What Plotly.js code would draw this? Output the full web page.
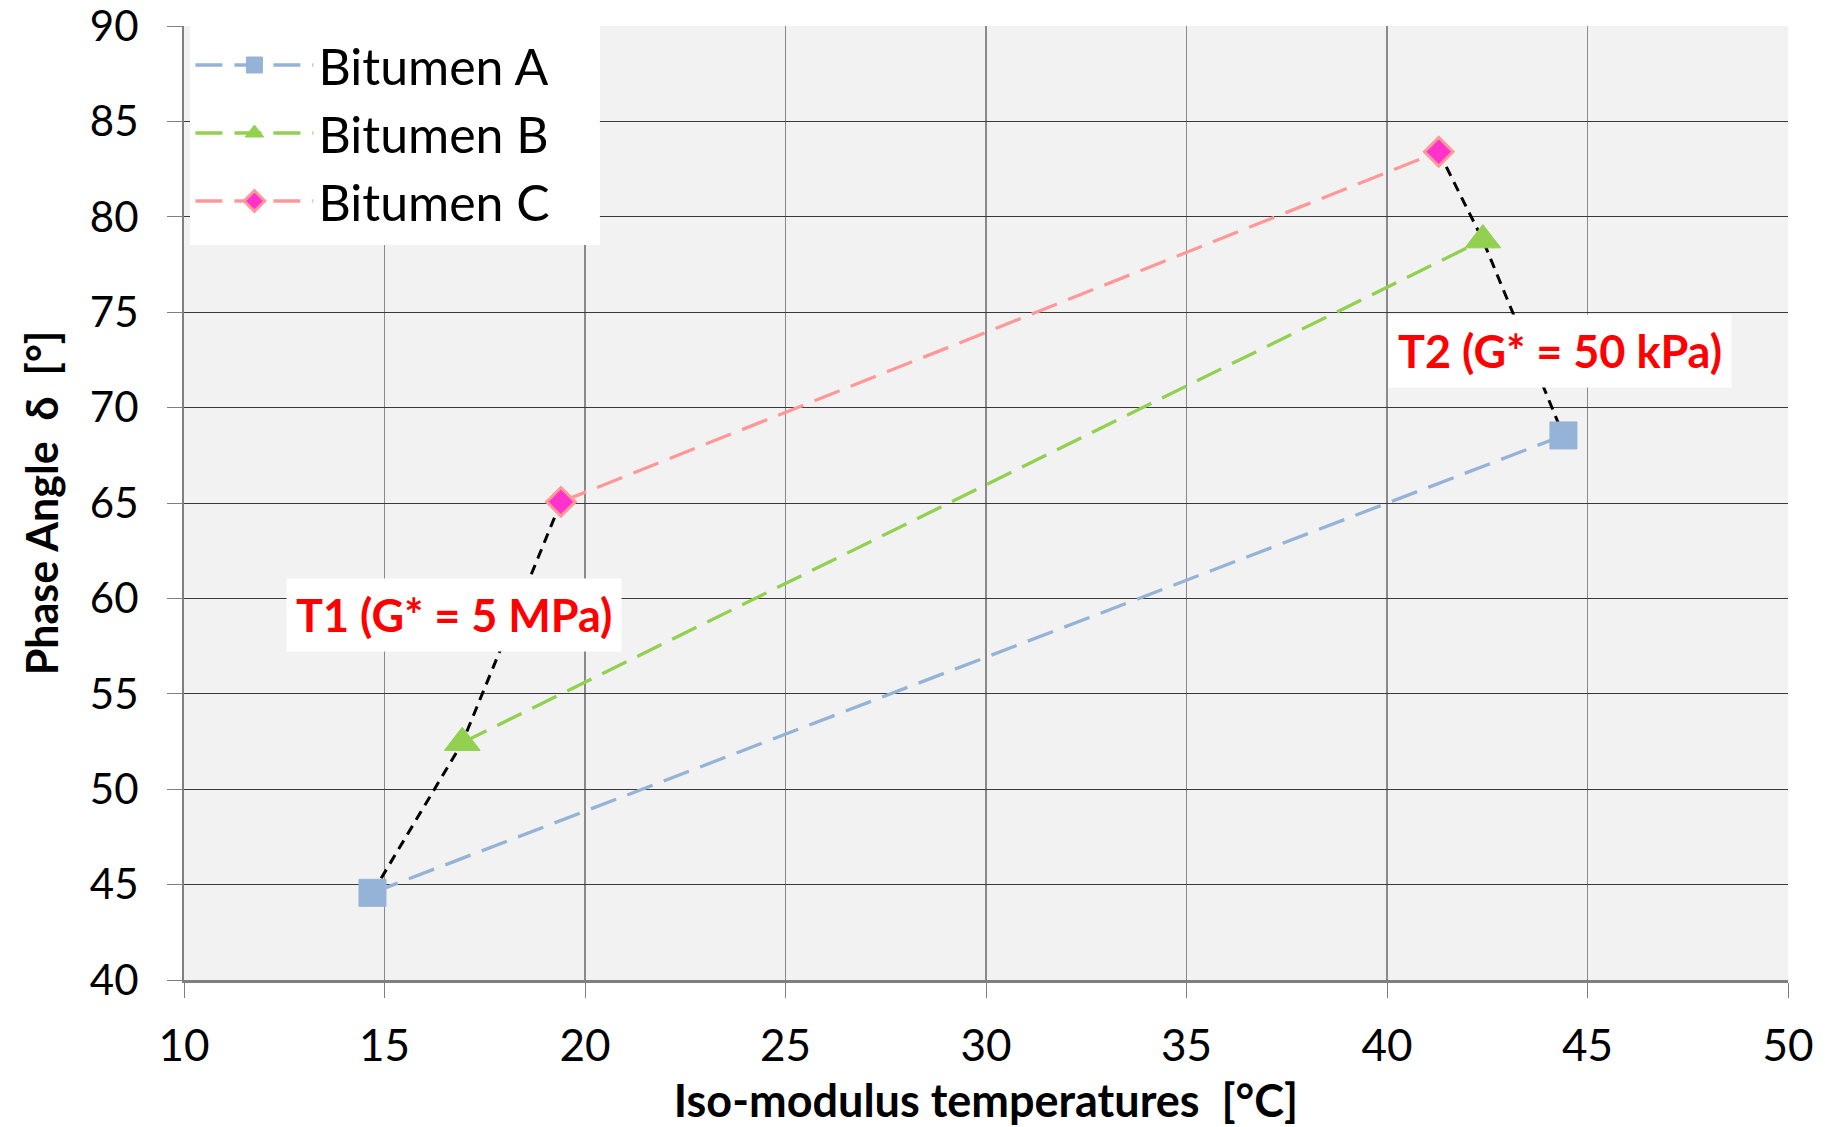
<!DOCTYPE html>
<html>
<head>
<meta charset="utf-8">
<script src="https://cdn.plot.ly/plotly-3.0.1.min.js"></script>
<style>html,body{margin:0;padding:0;background:#fff;}#chart{width:1825px;height:1127px;}</style>
</head>
<body>
<div id="chart"></div>
<script>
// Data
const seriesNames = ["Bitumen A", "Bitumen B", "Bitumen C"];
const tempA = [14.70, 44.40];
const phaseA = [44.57, 68.54];
const tempB = [16.94, 42.39];
const phaseB = [52.44, 78.78];
const tempC = [19.40, 41.29];
const phaseC = [65.06, 83.41];
const xTicks = [10, 15, 20, 25, 30, 35, 40, 45, 50];
const yTicks = [40, 45, 50, 55, 60, 65, 70, 75, 80, 85, 90];
const annoText = ["T1 (G* = 5 MPa)", "T2 (G* = 50 kPa)"];
const annoX = [16.73, 44.31];
const annoY = [59.15, 72.99];

const FONT = "Lato, 'Open Sans', sans-serif";

const t1x = [tempA[0], tempB[0], tempC[0]];
const t1y = [phaseA[0], phaseB[0], phaseC[0]];
const t2x = [tempC[1], tempB[1], tempA[1]];
const t2y = [phaseC[1], phaseB[1], phaseA[1]];

const blackLine = {color: "#000000", width: 3, dash: "10px,7px"};

const traces = [
  {x: t1x, y: t1y, mode: "lines", line: blackLine, showlegend: false, hoverinfo: "skip"},
  {x: t2x, y: t2y, mode: "lines", line: blackLine, showlegend: false, hoverinfo: "skip"},
  {x: tempA, y: phaseA, name: seriesNames[0], mode: "lines+markers",
   line: {color: "#95b3d7", width: 3.3, dash: "27px,12px"},
   marker: {symbol: "square", size: 27, color: "#95b3d7", line: {color: "#95b3d7", width: 1}}},
  {x: tempB, y: phaseB, name: seriesNames[1], mode: "lines+markers",
   line: {color: "#92d050", width: 3.3, dash: "27px,12px"},
   marker: {symbol: "triangle-up", size: 31, color: "#92d050", line: {color: "#92d050", width: 1}}},
  {x: tempC, y: phaseC, name: seriesNames[2], mode: "lines+markers",
   line: {color: "#ff9999", width: 3.3, dash: "27px,12px"},
   marker: {symbol: "diamond", size: 22, color: "#ff33cc", line: {color: "#ff9999", width: 3}}}
];

const annotations = annoText.map((t, i) => ({
  x: annoX[i], y: annoY[i], xref: "x", yref: "y", text: "<b>" + t + "</b>",
  showarrow: false, bgcolor: "#ffffff", borderpad: 9,
  font: {family: FONT, size: 45, color: "#ff0000"}
}));

const layout = {
  width: 1825, height: 1127,
  margin: {l: 184, r: 37, t: 26, b: 147},
  paper_bgcolor: "#ffffff",
  plot_bgcolor: "#f2f2f2",
  font: {family: FONT, color: "#000000"},
  xaxis: {
    range: [10, 50], tickvals: xTicks, ticktext: xTicks.map(String),
    showgrid: true, gridcolor: "#8a8a8a", gridwidth: 1.5,
    showline: true, linecolor: "#7f7f7f", linewidth: 3,
    ticks: "outside", ticklen: 15, tickcolor: "#7f7f7f", tickwidth: 1,
    ticklabelstandoff: 10, ticklabeloverflow: "allow",
    tickfont: {family: FONT, size: 44},
    zeroline: false,
    title: {text: "<b>Iso-modulus temperatures  [°C]</b>", font: {family: FONT, size: 45}, standoff: 20}
  },
  yaxis: {
    range: [40, 90], tickvals: yTicks, ticktext: yTicks.map(String),
    showgrid: true, gridcolor: "#3a3a3a", gridwidth: 1,
    showline: true, linecolor: "#7f7f7f", linewidth: 2,
    ticks: "outside", ticklen: 15, tickcolor: "#7f7f7f", tickwidth: 1,
    ticklabelstandoff: 20, ticklabeloverflow: "allow",
    tickfont: {family: FONT, size: 42},
    zeroline: false,
    title: {text: "<b>Phase Angle  δ  [°]</b>", font: {family: FONT, size: 43}, standoff: 18}
  },
  legend: {
    x: 0.004, y: 1, xanchor: "left", yanchor: "top",
    bgcolor: "#ffffff", borderwidth: 0,
    font: {family: FONT, size: 50, color: "#000000"},
    itemwidth: 118, tracegroupgap: 0
  },
  shapes: [{
    type: "rect", xref: "x", yref: "y",
    x0: 10.15, x1: 20.37, y0: 78.52, y1: 90,
    fillcolor: "#ffffff", line: {width: 0}, layer: "between"
  }],
  annotations: annotations
};

Plotly.newPlot("chart", traces, layout, {displayModeBar: false, staticPlot: true});
</script>
</body>
</html>
